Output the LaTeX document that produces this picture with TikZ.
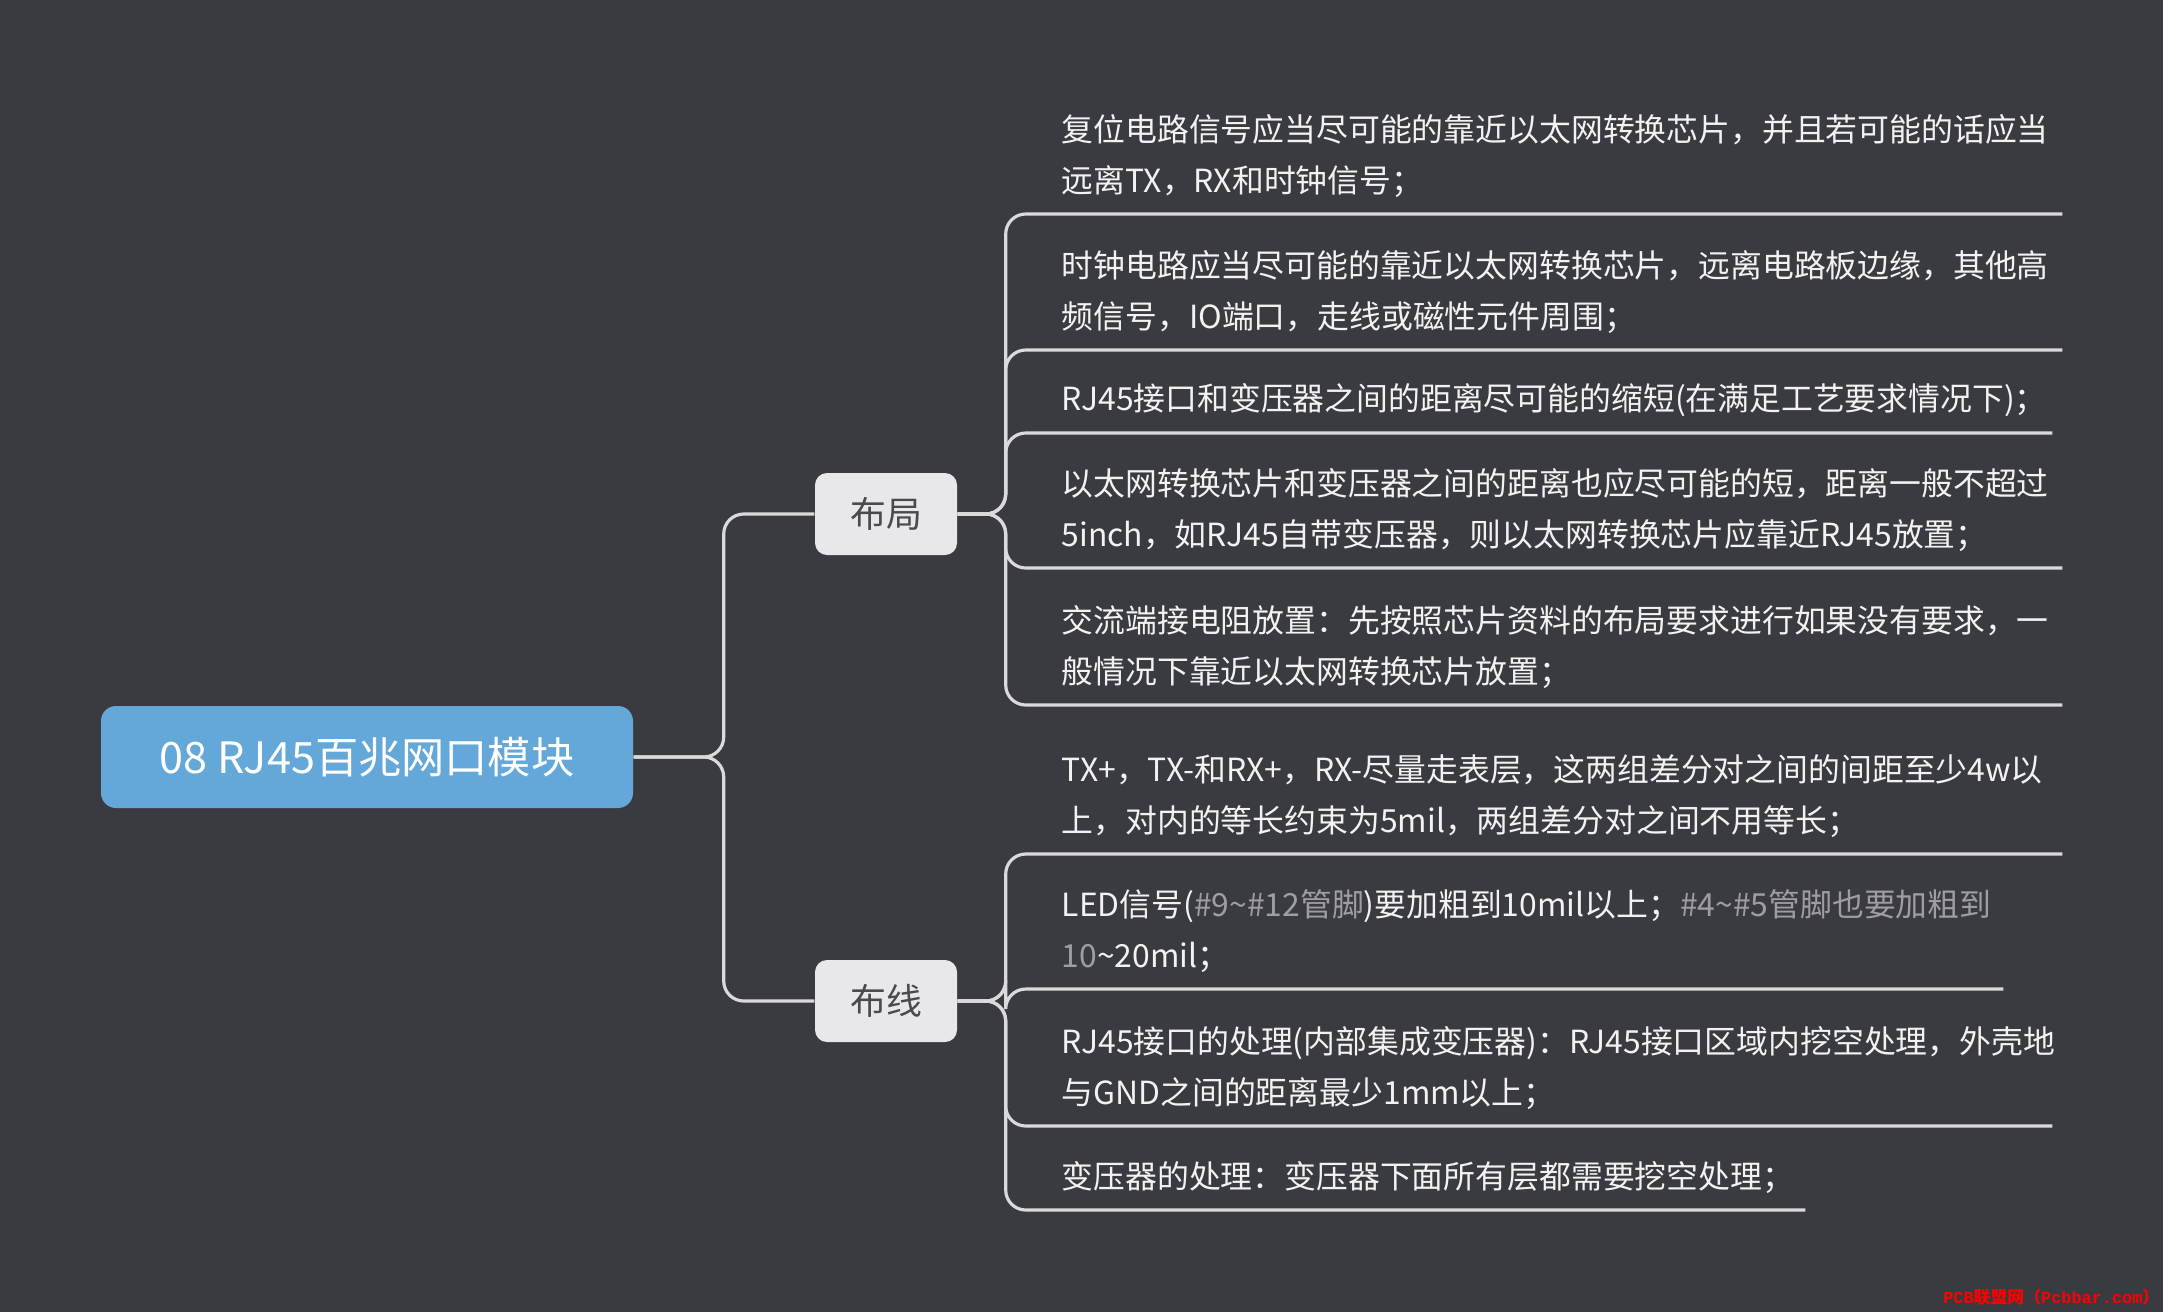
\documentclass[tikz,border=0pt]{standalone}
\usepackage{fontspec}
\newfontfamily\cjk{Noto Sans CJK SC}
\newfontfamily\wmfont{Liberation Mono}
\definecolor{bgcol}{RGB}{58,59,65}
\definecolor{rootcol}{RGB}{99,168,216}
\definecolor{branchcol}{RGB}{232,232,234}
\definecolor{branchtext}{RGB}{74,74,78}
\definecolor{linecol}{RGB}{218,218,220}
\definecolor{leaftext}{RGB}{242,242,242}
\definecolor{fadedcol}{RGB}{158,158,162}
\newcommand{\faded}[1]{\textcolor{fadedcol}{#1}}

\begin{document}
\begin{tikzpicture}[
		root/.style={fill=rootcol, rounded corners=0.15cm, minimum width=5.32cm, minimum height=1.02cm, text=white, font=\cjk\fontsize{12.3pt}{14pt}\selectfont},
		branch/.style={fill=branchcol, rounded corners=0.12cm, minimum width=1.42cm, minimum height=0.82cm, text=branchtext, font=\cjk\fontsize{10.2pt}{12pt}\selectfont},
		leaf/.style={anchor=south west, inner xsep=0pt, inner ysep=0.16cm, text width=#1, align=left, text=leaftext, font=\cjk\fontsize{9.06pt}{14.46pt}\selectfont},
		conn/.style={draw=linecol, line width=0.9pt, rounded corners=0.2cm},
		watermark/.style={anchor=east, text=red, inner sep=0pt, font=\wmfont\bfseries\fontsize{4.8pt}{6pt}\selectfont}
	]
		% Background
		\fill[bgcol] (0,0) rectangle (21.63,13.12);
		\useasboundingbox (0,0) rectangle (21.63,13.12);

		% Nodes
		\node[root] (root) at (3.67,5.55) {08 RJ45百兆网口模块};
		\node[branch] (layout) at (8.86,7.98) {布局};
		\node[branch] (routing) at (8.86,3.11) {布线};

		% Layout items
		\node[leaf=10cm] (lay1) at (10.61,10.98) {复位电路信号应当尽可能的靠近以太网转换芯片，并且若可能的话应当\\远离TX，RX和时钟信号；};
		\node[leaf=10cm] (lay2) at (10.61,9.62) {时钟电路应当尽可能的靠近以太网转换芯片，远离电路板边缘，其他高\\频信号，IO端口，走线或磁性元件周围；};
		\node[leaf=9.9cm] (lay3) at (10.61,8.79) {RJ45接口和变压器之间的距离尽可能的缩短(在满足工艺要求情况下)；};
		\node[leaf=10cm] (lay4) at (10.61,7.44) {以太网转换芯片和变压器之间的距离也应尽可能的短，距离一般不超过\\5inch，如RJ45自带变压器，则以太网转换芯片应靠近RJ45放置；};
		\node[leaf=10cm] (lay5) at (10.61,6.07) {交流端接电阻放置：先按照芯片资料的布局要求进行如果没有要求，一\\般情况下靠近以太网转换芯片放置；};

		% Routing items
		\node[leaf=10cm] (rout1) at (10.61,4.58) {TX+，TX-和RX+，RX-尽量走表层，这两组差分对之间的间距至少4w以\\上，对内的等长约束为5mil，两组差分对之间不用等长；};
		\node[leaf=9.41cm] (rout2) at (10.61,3.23) {LED信号(\faded{\#9\textasciitilde\#12管脚})要加粗到10mil以上；\faded{\#4\textasciitilde\#5管脚也要加粗到}\\\faded{10}\textasciitilde20mil；};
		\node[leaf=9.9cm] (rout3) at (10.61,1.86) {RJ45接口的处理(内部集成变压器)：RJ45接口区域内挖空处理，外壳地\\与GND之间的距离最少1mm以上；};
		\node[leaf=7.43cm] (rout4) at (10.61,1.02) {变压器的处理：变压器下面所有层都需要挖空处理；};

		% Connections
		\draw[conn] (root.east) -- ++(0.9,0) |- (layout.west);
		\draw[conn] (root.east) -- ++(0.9,0) |- (routing.west);

		\foreach \i in {1,...,5}
			\draw[conn] (layout.east) -- ++(0.48,0) |- (lay\i.south west) -- (lay\i.south east);
		\foreach \i in {1,...,4}
			\draw[conn] (routing.east) -- ++(0.48,0) |- (rout\i.south west) -- (rout\i.south east);

		% Watermark
		\node[watermark] (mark) at (21.6,0.15) {PCB{\cjk 联盟网（}Pcbbar.com{\cjk ）}};
	\end{tikzpicture}
\end{document}
